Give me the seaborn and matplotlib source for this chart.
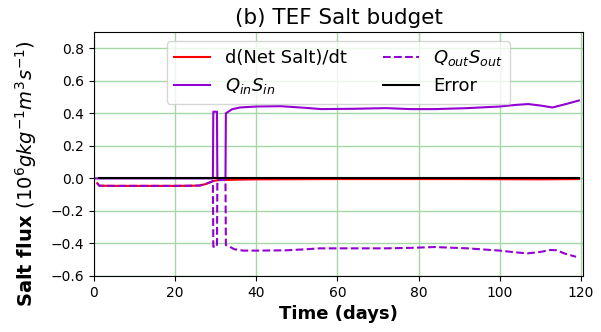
import matplotlib
matplotlib.use("Agg")
import matplotlib.pyplot as plt
import seaborn as sns
import pandas as pd

# Rate of change of net salt content (10^6 g/kg m^3/s)
net_days = [0.8, 1.3, 5, 10, 15, 20, 24, 26, 27.5, 28.5, 29.5, 31, 35, 40, 50, 60, 70, 80, 90, 100, 110, 119.5]
net_vals = [-0.03, -0.045, -0.046, -0.046, -0.046, -0.046, -0.045, -0.044, -0.035, -0.025, -0.015, -0.01, -0.008, -0.006, -0.005, -0.004, -0.004, -0.004, -0.004, -0.005, -0.006, -0.004]

# Inflowing salt transport
qin_days = [0.0, 29.3, 29.4, 30.3, 30.4, 32.4, 32.5, 34, 36, 40, 46, 52, 56, 64, 72, 78, 84, 92, 100, 104, 107, 110, 113, 116.6, 119.5]
qin_vals = [0.0, 0.0, 0.41, 0.41, 0.0, 0.0, 0.40, 0.425, 0.436, 0.442, 0.444, 0.434, 0.426, 0.428, 0.432, 0.426, 0.426, 0.432, 0.442, 0.452, 0.457, 0.448, 0.436, 0.459, 0.479]

# Outflowing salt transport
qout_days = [0.8, 1.3, 5, 10, 15, 20, 24, 26, 27.5, 28.5, 29.3, 29.4, 30.3, 30.4, 32.4, 32.5, 33.5, 34.5, 36.8, 40, 47.5, 52, 55.7, 64, 72, 78, 84, 92, 100, 104, 106.8, 110, 112.5, 114, 116, 118.8]
qout_vals = [-0.03, -0.045, -0.046, -0.046, -0.046, -0.046, -0.045, -0.044, -0.035, -0.025, -0.017, -0.42, -0.42, -0.01, -0.01, -0.41, -0.42, -0.435, -0.444, -0.444, -0.442, -0.436, -0.43, -0.43, -0.43, -0.427, -0.422, -0.43, -0.444, -0.455, -0.461, -0.452, -0.44, -0.442, -0.462, -0.482]

# Budget residual
err_days = [1.2, 119.5]
err_vals = [0.0, 0.0]

purple = "#9400d3"

fig = plt.figure(figsize=(6.01, 3.32), dpi=100)
ax = fig.add_axes([0.1564, 0.1687, 0.8136, 0.7349])

series = [
    (net_days, net_vals, "d(Net Salt)/dt", "#ff0000", "-"),
    (qin_days, qin_vals, r"$Q_{in}S_{in}$", purple, "-"),
    (qout_days, qout_vals, r"$Q_{out}S_{out}$", purple, "--"),
    (err_days, err_vals, "Error", "black", "-"),
]
for days, vals, label, color, ls in series:
    df = pd.DataFrame({"day": days, "flux": vals})
    sns.lineplot(data=df, x="day", y="flux", ax=ax, color=color, linestyle=ls,
                 linewidth=1.5, estimator=None, sort=False, label=label)

ax.set_xlim(0, 120.5)
ax.set_ylim(-0.6, 0.9)
ax.set_xticks([0, 20, 40, 60, 80, 100, 120])
ax.set_yticks([-0.6, -0.4, -0.2, 0.0, 0.2, 0.4, 0.6, 0.8])
ax.tick_params(labelsize=10)
ax.grid(True, color="#a6d8a6", linewidth=1.0)
ax.set_axisbelow(True)

ax.set_title("(b) TEF Salt budget", fontsize=15.5)
ax.set_xlabel("Time (days)", fontsize=13, fontweight="bold")
ax.set_ylabel(r"Salt flux $(10^6 gkg^{-1}m^3s^{-1})$", fontsize=14, fontweight="bold")
ax.yaxis.set_label_coords(-0.112, 0.42)

ax.legend(loc="upper center", ncol=2, fontsize=13)

fig.savefig("out.png", dpi=100)
